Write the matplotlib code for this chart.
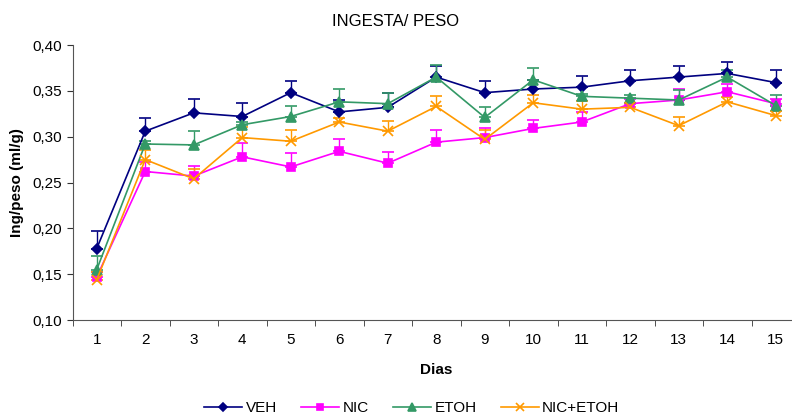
import numpy as np
import matplotlib.pyplot as plt
from matplotlib.lines import Line2D
from matplotlib.ticker import FixedLocator, FuncFormatter

plt.rcParams['font.family'] = ['Liberation Sans', 'DejaVu Sans']

dias = np.arange(1, 16)

veh = [0.178, 0.306, 0.326, 0.322, 0.348, 0.327, 0.332, 0.365, 0.348, 0.352, 0.354, 0.361, 0.365, 0.369, 0.359]
veh_err = [0.019, 0.014, 0.015, 0.015, 0.013, 0.013, 0.016, 0.012, 0.013, 0.010, 0.012, 0.012, 0.012, 0.013, 0.014]

nic = [0.147, 0.262, 0.257, 0.278, 0.267, 0.284, 0.271, 0.294, 0.299, 0.309, 0.316, 0.336, 0.340, 0.349, 0.336]
nic_err = [0.005, 0.010, 0.011, 0.015, 0.015, 0.013, 0.012, 0.013, 0.011, 0.009, 0.011, 0.005, 0.012, 0.008, 0.005]

etoh = [0.155, 0.292, 0.291, 0.313, 0.322, 0.338, 0.336, 0.365, 0.321, 0.362, 0.344, 0.342, 0.340, 0.365, 0.334]
etoh_err = [0.015, 0.003, 0.015, 0.003, 0.012, 0.014, 0.012, 0.013, 0.011, 0.013, 0.003, 0.003, 0.011, 0.008, 0.012]

nicetoh = [0.144, 0.275, 0.254, 0.299, 0.295, 0.316, 0.306, 0.333, 0.297, 0.337, 0.330, 0.332, 0.312, 0.338, 0.323]
nicetoh_err = [0.008, 0.011, 0.011, 0.012, 0.012, 0.004, 0.011, 0.011, 0.010, 0.009, 0.009, 0.005, 0.009, 0.005, 0.005]

series = [
    ('VEH', veh, veh_err, '#000080', 'D', 5),
    ('NIC', nic, nic_err, '#FF00FF', 's', 5.5),
    ('ETOH', etoh, etoh_err, '#339966', '^', 6.5),
    ('NIC+ETOH', nicetoh, nicetoh_err, '#FF9900', 'x', 6.5),
]

fig = plt.figure(figsize=(7.92, 4.18), dpi=100)
ax = fig.add_axes([72.5 / 792, 1 - 320 / 418, (800 - 72.5) / 792, 275 / 418])

handles = []
for name, y, e, c, m, ms in series:
    ax.errorbar(dias, y, yerr=[np.zeros(len(e)), e], color=c, marker=m,
                markersize=ms, linewidth=1.2, elinewidth=1, capsize=4,
                markeredgewidth=1.2, clip_on=False)
    handles.append(Line2D([], [], color=c, marker=m, markersize=ms - 1,
                          linewidth=1.2, markeredgewidth=1.2, label=name))

ax.set_xlim(0.5, 15.5)
ax.set_ylim(0.10, 0.40)
ax.set_yticks(np.arange(0.10, 0.401, 0.05))
ax.yaxis.set_major_formatter(FuncFormatter(lambda v, p: f'{v:.2f}'.replace('.', ',')))
ax.set_xticks(dias)
ax.xaxis.set_minor_locator(FixedLocator(np.arange(0.5, 16, 1)))
ax.tick_params(axis='x', which='major', length=0, pad=9, labelsize=11)
ax.tick_params(axis='x', which='minor', length=4, direction='out', color='#333333')
ax.tick_params(axis='y', length=4, direction='out', labelsize=11, color='#333333')

for s in ['top', 'right']:
    ax.spines[s].set_visible(False)
for s in ['left', 'bottom']:
    ax.spines[s].set_color('#555555')

ax.set_xlabel('Dias', fontweight='bold', fontsize=11, labelpad=12)
ax.set_ylabel('Ing/peso (ml/g)', fontweight='bold', fontsize=11, labelpad=6)
fig.text(0.5, 1 - 22 / 418, 'INGESTA/ PESO', ha='center', va='center', fontsize=12)

fig.legend(handles=handles, loc='center', bbox_to_anchor=(0.52, 1 - 408 / 418), ncol=4,
           frameon=False, fontsize=11, handlelength=2.5, columnspacing=1.6,
           handletextpad=0.2)

fig.savefig('out.png', dpi=100)
